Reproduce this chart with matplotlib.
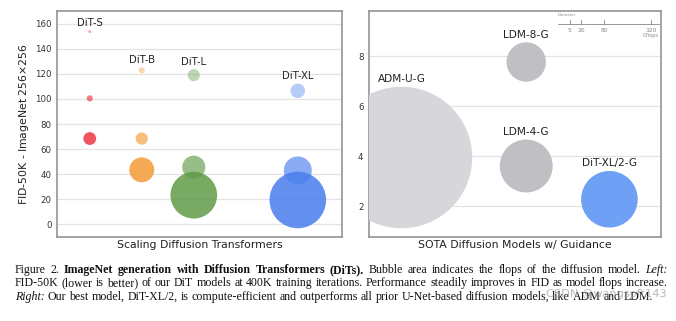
import numpy as np
import matplotlib
matplotlib.use("Agg")
import matplotlib.pyplot as plt

# ---------------- data ----------------
families = ["DiT-S", "DiT-B", "DiT-L", "DiT-XL"]
family_x = [0, 1, 2, 4]
patch_sizes = ["/8", "/4", "/2"]
fid_left = [
    [153.6, 100.4, 68.4],
    [122.7, 68.4, 43.5],
    [118.9, 45.6, 23.3],
    [106.4, 43.0, 19.5],
]
gflops_left = [
    [0.36, 1.41, 6.06],
    [1.42, 5.56, 23.01],
    [5.44, 19.70, 80.71],
    [7.77, 29.05, 118.64],
]
family_colors = ["#ed3743", "#f39b37", "#609b49", "#497eee"]
patch_alphas = [0.4, 0.65, 0.85]

sota_names = ["ADM-U-G", "LDM-8-G", "LDM-4-G", "DiT-XL/2-G"]
sota_x = [0, 1.5, 1.5, 2.5]
sota_fid = [3.94, 7.76, 3.60, 2.27]
sota_gflops = [742, 57.4, 103.6, 118.64]
sota_colors = ["#d7d7db", "#bfbfc4", "#bfbfc4", "#6ea0f5"]

legend_gflops = [5, 20, 80, 320]

left_yticks = [0, 20, 40, 60, 80, 100, 120, 140, 160]
right_yticks = [2, 4, 6, 8]

DPI = 100
W, H = 676, 321
S_PER_GFLOP = 14.0           # marker area (pt^2) per Gflop
PX_PER_PT = DPI / 72.0

fig = plt.figure(figsize=(W / DPI, H / DPI), dpi=DPI)
fig.patch.set_facecolor("white")

def frac_box(x0, y0, x1, y1):
    return [x0 / W, 1 - y1 / H, (x1 - x0) / W, (y1 - y0) / H]

axL = fig.add_axes(frac_box(57, 11, 342, 237))
axR = fig.add_axes(frac_box(369, 11, 661, 237))

for ax in (axL, axR):
    ax.set_facecolor("white")
    for sp in ax.spines.values():
        sp.set_color("#8c8c8c")
        sp.set_linewidth(1.1)
    ax.set_axisbelow(True)
    ax.yaxis.grid(True, color="#e3e3e3", linewidth=0.9)
    ax.set_xticks([])
    ax.tick_params(axis="y", length=0, labelsize=6.2, colors="#333333", pad=4)

# ---------- left panel ----------
for fi, fam in enumerate(families):
    for pi in range(3):
        s = S_PER_GFLOP * gflops_left[fi][pi]
        axL.scatter(family_x[fi], fid_left[fi][pi], s=s, color=family_colors[fi],
                    alpha=patch_alphas[pi], edgecolors="none", zorder=3)
    r_pt = np.sqrt(S_PER_GFLOP * gflops_left[fi][0]) / 2
    axL.annotate(fam, xy=(family_x[fi], fid_left[fi][0]), xytext=(0, r_pt + 5.2),
                 textcoords="offset points", ha="center", va="center",
                 fontsize=7.3, color="#222222", zorder=4)

axL.set_xlim(-0.63, 4.85)
axL.set_ylim(-10, 170)
axL.set_yticks(left_yticks)
axL.set_ylabel("FID-50K - ImageNet 256$\\times$256", fontsize=7.8, color="#222222", labelpad=2.5)
axL.set_xlabel("Scaling Diffusion Transformers", fontsize=7.8, color="#222222", labelpad=2)

# ---------- right panel ----------
for i, name in enumerate(sota_names):
    s = S_PER_GFLOP * sota_gflops[i]
    axR.scatter(sota_x[i], sota_fid[i], s=s, color=sota_colors[i],
                edgecolors="none", zorder=3)
    r_pt = np.sqrt(s) / 2
    axR.annotate(name, xy=(sota_x[i], sota_fid[i]), xytext=(0, r_pt + 5.4),
                 textcoords="offset points", ha="center", va="center",
                 fontsize=7.6, color="#222222", zorder=4)

axR.set_xlim(-0.39, 3.12)
axR.set_ylim(0.76, 9.8)
axR.set_yticks(right_yticks)
axR.set_xlabel("SOTA Diffusion Models w/ Guidance", fontsize=7.8, color="#222222", labelpad=2)

# ---------- diameter legend (figure pixels) ----------
lx0, lx1, ly = 558, 659, 24
gray = "#888888"
fig.add_artist(plt.Line2D([lx0 / W, lx1 / W], [1 - ly / H, 1 - ly / H],
                          color=gray, lw=0.6, transform=fig.transFigure))
for g in legend_gflops:
    d_px = np.sqrt(S_PER_GFLOP * g) * PX_PER_PT
    xp = (lx0 + d_px) / W
    fig.add_artist(plt.Line2D([xp, xp], [1 - ly / H, 1 - (ly - 4) / H],
                              color=gray, lw=0.6, transform=fig.transFigure))
    fig.text(xp, 1 - 30 / H, str(g), fontsize=4.3, color=gray, ha="center", va="center")
fig.text(lx0 / W, 1 - 15 / H, "Diameter", fontsize=2.8, color=gray, ha="left", va="center")
fig.text((lx0 + np.sqrt(S_PER_GFLOP * 320) * PX_PER_PT) / W, 1 - 36 / H, "Gflops",
         fontsize=3.6, color=gray, ha="center", va="center")

# ---------- caption ----------
cap_lines = [
    ([("Figure 2.", "normal"), ("ImageNet generation with Diffusion Transformers (DiTs).", "bold"),
      ("Bubble area indicates the flops of the diffusion model.", "normal"), ("Left:", "italic")], True),
    ([("FID-50K (lower is better) of our DiT models at 400K training iterations. Performance steadily improves in FID as model flops increase.", "normal")], True),
    ([("Right:", "italic"),
      ("Our best model, DiT-XL/2, is compute-efficient and outperforms all prior U-Net-based diffusion models, like ADM and LDM.", "normal")], False),
]
cap_y = [270, 283.3, 296.6]
cap_x0, cap_x1 = 15, 668
fs = 8.6
renderer = fig.canvas.get_renderer()

def make(word, style, fsz):
    kw = dict(fontsize=fsz, family="Liberation Serif", color="#111111", va="center", ha="left")
    if style == "bold":
        kw["fontweight"] = "bold"
    if style == "italic":
        kw["fontstyle"] = "italic"
    return fig.text(0, 0, word, **kw)

probe_a = make("a a", "normal", fs)
probe_b = make("aa", "normal", fs)
space_w = probe_a.get_window_extent(renderer).width - probe_b.get_window_extent(renderer).width
probe_a.remove(); probe_b.remove()

for (segs, justify), yc in zip(cap_lines, cap_y):
    words = []
    for txt, style in segs:
        for w in txt.split(" "):
            words.append((w, style))
    arts = [make(w, st, fs) for w, st in words]
    widths = [a.get_window_extent(renderer).width for a in arts]
    if justify:
        gap = (cap_x1 - cap_x0 - sum(widths)) / (len(words) - 1)
    else:
        gap = space_w
    x = cap_x0
    for a, wdt in zip(arts, widths):
        a.set_position((x / W, 1 - yc / H))
        x += wdt + gap

# watermark (overlays the caption, as in the source image)
fig.text(606 / W, 1 - 294 / H, "CSDN @wangsoft143", fontsize=8.2, color="#9a9a9a",
         alpha=0.7, ha="center", va="center")

fig.savefig("out.png", dpi=DPI, facecolor="white")
